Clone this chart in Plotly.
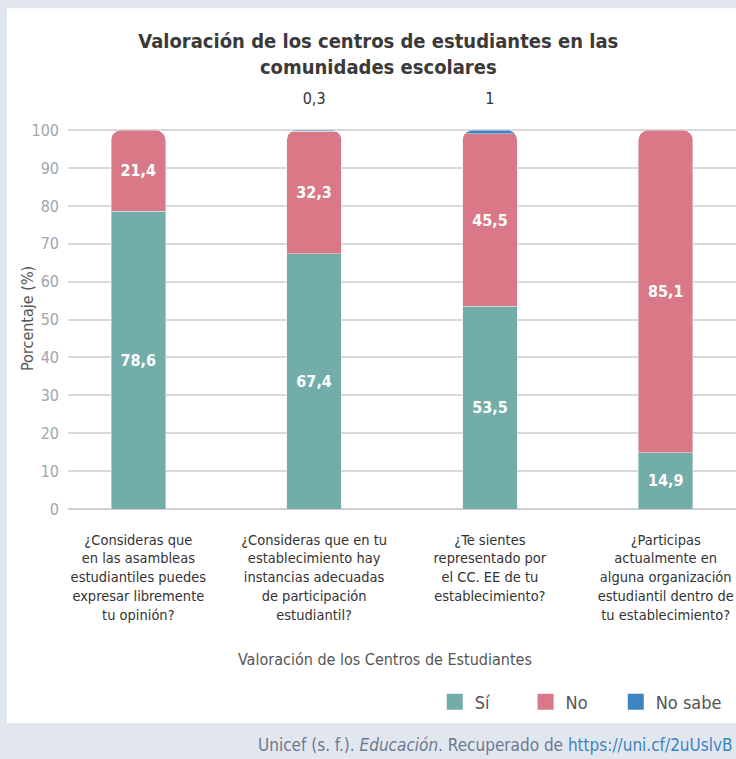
import plotly.graph_objects as go

categorias = [
    "¿Consideras que<br>en las asambleas<br>estudiantiles puedes<br>expresar libremente<br>tu opinión?",
    "¿Consideras que en tu<br>establecimiento hay<br>instancias adecuadas<br>de participación<br>estudiantil?",
    "¿Te sientes<br>representado por<br>el CC. EE de tu<br>establecimiento?",
    "¿Participas<br>actualmente en<br>alguna organización<br>estudiantil dentro de<br>tu establecimiento?",
]
si = [78.6, 67.4, 53.5, 14.9]
no = [21.4, 32.3, 45.5, 85.1]
no_sabe = [None, 0.3, 1.0, None]

colores = {"Sí": "#72ada9", "No": "#d97987", "No sabe": "#3d84c0"}
FUENTE = "DejaVu Sans Condensed, Roboto, sans-serif"


def fmt(v):
    if v is None:
        return ""
    return f"{v:g}".replace(".", ",")


fig = go.Figure()

fig.add_trace(go.Bar(
    x=categorias, y=si, name="Sí", marker_color=colores["Sí"],
    text=[fmt(v) for v in si], textposition="inside", insidetextanchor="middle",
    textfont=dict(color="white", size=16, family=FUENTE, weight="bold"),
    showlegend=False, width=0.31,
))
fig.add_trace(go.Bar(
    x=categorias, y=no, name="No", marker_color=colores["No"],
    text=[fmt(v) for v in no], textposition="inside", insidetextanchor="middle",
    textfont=dict(color="white", size=16, family=FUENTE, weight="bold"),
    showlegend=False, width=0.31,
))
# la línea vacía de abajo sube la etiqueta exterior un poco sobre la barra
fig.add_trace(go.Bar(
    x=categorias, y=no_sabe, name="No sabe", marker_color=colores["No sabe"],
    text=[fmt(v) + "<br><span style='font-size:7px'> </span>" if v else "" for v in no_sabe],
    textposition="outside",
    textfont=dict(color="#333333", size=16, family=FUENTE),
    showlegend=False, width=0.31, cliponaxis=False,
))

# una leyenda por serie, para colocar cada cuadro donde está en el original
leyendas = {"Sí": ("legend", 0.549), "No": ("legend2", 0.685), "No sabe": ("legend3", 0.820)}
for nombre, (ley, _) in leyendas.items():
    fig.add_trace(go.Scatter(
        x=[None], y=[None], mode="markers", name=nombre, legend=ley,
        marker=dict(symbol="square", size=20, color=colores[nombre]),
    ))

ley_cfg = {}
for nombre, (ley, xpos) in leyendas.items():
    ley_cfg[ley] = dict(
        orientation="h", x=xpos, xanchor="left", y=-0.494, yanchor="middle",
        font=dict(size=18, color="#555555"), bgcolor="rgba(0,0,0,0)",
    )

fig.update_layout(
    width=736, height=759,
    barmode="stack", barcornerradius=10,
    paper_bgcolor="#e2e7ef", plot_bgcolor="rgba(0,0,0,0)",
    margin=dict(l=68, r=0, t=118, b=250, autoexpand=False),
    font=dict(family=FUENTE, color="#444444"),
    title=dict(
        text="<b>Valoración de los centros de estudiantes en las<br>comunidades escolares</b>",
        x=0.514, xanchor="center", xref="container",
        y=1 - 48 / 759, yanchor="top", yref="container",
        font=dict(size=20, color="#3a3a3a", family=FUENTE),
    ),
    separators=",.",
    shapes=[dict(
        type="rect", xref="paper", yref="paper",
        x0=-0.0913, x1=1.01, y0=(509 - 723) / 391, y1=1.281,
        fillcolor="white", line_width=0, layer="below",
    )],
    annotations=[
        dict(
            text="Porcentaje (%)", textangle=-90,
            xref="paper", yref="paper", x=(27 - 68) / 668, y=(509 - 319) / 391,
            xanchor="center", yanchor="middle",
            showarrow=False, font=dict(size=16, color="#555555"),
        ),
        dict(
            text="Valoración de los Centros de Estudiantes",
            xref="paper", yref="paper", x=0.475, y=(509 - 659) / 391, yanchor="middle",
            showarrow=False, font=dict(size=16, color="#555555"),
        ),
        dict(
            text="Unicef (s. f.). <i>Educación</i>. Recuperado de "
                 "<span style='color:#3d84c0'>https://uni.cf/2uUslvB</span>",
            xref="paper", yref="paper", x=0.9985, y=(509 - 745) / 391,
            xanchor="right", yanchor="middle",
            showarrow=False, font=dict(size=17, color="#6b7a8f"),
        ),
    ],
    **ley_cfg,
)

fig.update_xaxes(
    range=[-0.4, 3.4], showgrid=False, showline=False, ticks="",
    tickfont=dict(size=14.5, color="#333333"), ticklabelstandoff=20,
)
fig.update_yaxes(
    range=[0, 103.2], dtick=10, tick0=0,
    showgrid=True, gridcolor="#d9d9d9", gridwidth=1.5,
    zeroline=True, zerolinecolor="#cfcfcf", zerolinewidth=1.5,
    tickfont=dict(size=16, color="#a0a5aa"), ticklabelstandoff=8,
)

fig.write_html(
    "out.html",
    config={"displayModeBar": False},
    post_script="document.body.style.margin='0';",
)
